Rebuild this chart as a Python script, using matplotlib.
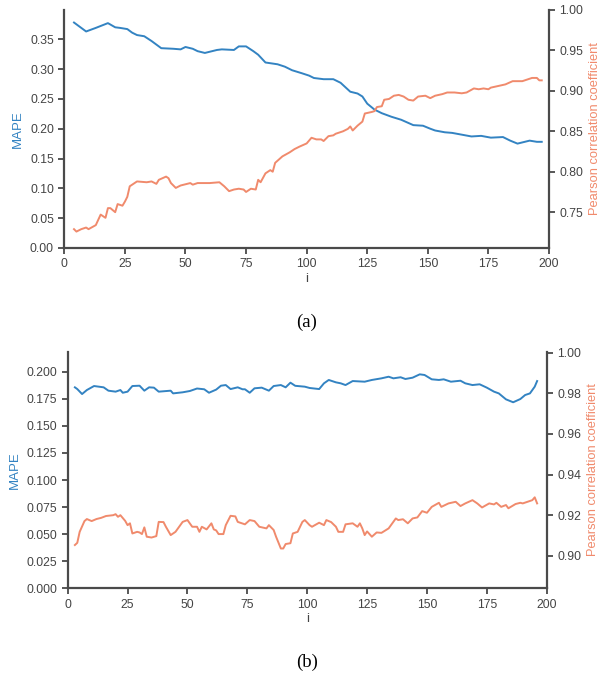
import matplotlib
matplotlib.use("Agg")
import matplotlib.pyplot as plt

# ---------------- data: panel (a) ----------------
a_mape_i = [4, 9, 13, 18, 21, 23, 26, 28, 30, 33, 36, 40, 45, 48, 50, 53, 55, 58, 63, 65, 70, 72, 75,
            78, 80, 83, 88, 91, 94, 98, 101, 103, 107, 111, 114, 118, 121, 123, 125, 128, 131, 135,
            139, 144, 148, 151, 153, 157, 160, 164, 168, 172, 176, 181, 184, 187, 190, 192, 195, 197]
a_mape = [0.378, 0.363, 0.369, 0.377, 0.370, 0.369, 0.367, 0.361, 0.357, 0.355, 0.347, 0.335, 0.334,
          0.333, 0.337, 0.334, 0.330, 0.327, 0.332, 0.333, 0.332, 0.338, 0.338, 0.330, 0.324, 0.311,
          0.308, 0.304, 0.298, 0.293, 0.289, 0.285, 0.283, 0.283, 0.277, 0.262, 0.259, 0.254, 0.242,
          0.232, 0.226, 0.220, 0.215, 0.206, 0.205, 0.200, 0.197, 0.194, 0.193, 0.190, 0.187, 0.188,
          0.185, 0.186, 0.180, 0.175, 0.178, 0.180, 0.178, 0.178]

a_pcc_i = [4, 5, 7, 9, 10, 13, 15, 17, 18, 19, 21, 22, 24, 25, 26, 27, 28, 30, 34, 36, 38, 39, 42, 43,
           44, 46, 48, 52, 53, 55, 60, 64, 66, 68, 70, 72, 74, 75, 77, 79, 80, 81, 83, 85, 86, 87, 90,
           93, 95, 97, 100, 102, 104, 106, 107, 109, 111, 112, 115, 117, 118, 119, 121, 123, 124, 127,
           128, 129, 131, 132, 134, 136, 138, 139, 140, 142, 144, 146, 149, 151, 153, 156, 158, 161,
           164, 166, 169, 171, 173, 175, 176, 179, 182, 185, 189, 191, 193, 195, 196, 197]
a_pcc = [0.729, 0.726, 0.729, 0.731, 0.729, 0.734, 0.747, 0.743, 0.755, 0.755, 0.750, 0.760, 0.758,
         0.763, 0.769, 0.782, 0.784, 0.788, 0.787, 0.788, 0.785, 0.790, 0.794, 0.792, 0.786, 0.780,
         0.783, 0.786, 0.784, 0.786, 0.786, 0.787, 0.782, 0.776, 0.778, 0.779, 0.778, 0.775, 0.779,
         0.778, 0.790, 0.787, 0.798, 0.802, 0.800, 0.811, 0.819, 0.824, 0.828, 0.831, 0.835, 0.842,
         0.840, 0.840, 0.838, 0.844, 0.845, 0.847, 0.850, 0.853, 0.856, 0.851, 0.857, 0.862, 0.872,
         0.874, 0.875, 0.880, 0.881, 0.889, 0.890, 0.894, 0.895, 0.894, 0.893, 0.889, 0.888, 0.893,
         0.894, 0.891, 0.894, 0.896, 0.898, 0.898, 0.897, 0.898, 0.903, 0.902, 0.903, 0.902, 0.904,
         0.906, 0.908, 0.912, 0.912, 0.914, 0.916, 0.916, 0.913, 0.913]

# ---------------- data: panel (b) ----------------
b_mape_i = [3, 4, 6, 8, 11, 15, 17, 20, 22, 23, 25, 27, 30, 32, 34, 36, 38, 43, 44, 48, 51, 54, 57,
            59, 62, 64, 66, 68, 71, 73, 74, 76, 78, 81, 84, 86, 89, 91, 93, 95, 99, 101, 105, 107,
            109, 112, 114, 116, 119, 124, 127, 131, 134, 136, 139, 141, 144, 147, 149, 152, 155, 157,
            160, 164, 166, 169, 172, 175, 178, 180, 183, 186, 189, 191, 193, 195, 196]
b_mape = [0.1856, 0.1840, 0.1794, 0.1831, 0.1868, 0.1856, 0.1825, 0.1816, 0.1831, 0.1806, 0.1816,
          0.1868, 0.1871, 0.1825, 0.1856, 0.1853, 0.1816, 0.1825, 0.1800, 0.1810, 0.1822, 0.1845,
          0.1838, 0.1806, 0.1835, 0.1871, 0.1877, 0.1840, 0.1856, 0.1838, 0.1838, 0.1806, 0.1847,
          0.1853, 0.1825, 0.1868, 0.1877, 0.1856, 0.1899, 0.1870, 0.1862, 0.1850, 0.1840, 0.1893,
          0.1924, 0.1902, 0.1893, 0.1877, 0.1914, 0.1908, 0.1924, 0.1939, 0.1954, 0.1939, 0.1949,
          0.1933, 0.1945, 0.1976, 0.1970, 0.1930, 0.1924, 0.1930, 0.1908, 0.1917, 0.1893, 0.1877,
          0.1884, 0.1853, 0.1816, 0.1800, 0.1745, 0.1718, 0.1748, 0.1785, 0.1800, 0.1862, 0.1914]

b_pcc_i = [3, 4, 5, 7, 8, 10, 12, 14, 16, 19, 20, 21, 22, 24, 25, 26, 27, 29, 30, 31, 32, 33, 35, 37,
           38, 40, 41, 43, 45, 48, 50, 52, 54, 55, 56, 58, 60, 61, 62, 63, 65, 66, 68, 70, 71, 74, 76,
           78, 80, 83, 84, 86, 87, 89, 90, 91, 93, 94, 96, 98, 99, 101, 102, 105, 107, 108, 110, 112,
           113, 115, 116, 119, 121, 122, 123, 124, 125, 127, 129, 131, 134, 137, 138, 140, 142, 144,
           146, 148, 150, 152, 155, 156, 159, 162, 164, 166, 169, 171, 173, 176, 178, 179, 181, 183,
           184, 187, 189, 190, 192, 194, 195, 196]
b_pcc = [0.9053, 0.9064, 0.9118, 0.9171, 0.9181, 0.9171, 0.9181, 0.9187, 0.9196, 0.9200, 0.9205,
         0.9192, 0.9200, 0.9172, 0.9151, 0.9160, 0.9110, 0.9118, 0.9115, 0.9107, 0.9140, 0.9094,
         0.9090, 0.9097, 0.9167, 0.9166, 0.9143, 0.9102, 0.9118, 0.9167, 0.9176, 0.9143, 0.9143,
         0.9118, 0.9143, 0.9130, 0.9160, 0.9130, 0.9125, 0.9107, 0.9107, 0.9151, 0.9197, 0.9194,
         0.9167, 0.9155, 0.9176, 0.9171, 0.9143, 0.9135, 0.9151, 0.9127, 0.9094, 0.9036, 0.9036,
         0.9058, 0.9062, 0.9110, 0.9118, 0.9167, 0.9176, 0.9151, 0.9143, 0.9163, 0.9151, 0.9176,
         0.9166, 0.9143, 0.9118, 0.9118, 0.9155, 0.9160, 0.9143, 0.9160, 0.9135, 0.9102, 0.9120,
         0.9094, 0.9115, 0.9113, 0.9135, 0.9184, 0.9176, 0.9180, 0.9160, 0.9184, 0.9189, 0.9220,
         0.9212, 0.9241, 0.9261, 0.9241, 0.9258, 0.9266, 0.9245, 0.9258, 0.9274, 0.9258, 0.9238,
         0.9258, 0.9253, 0.9261, 0.9241, 0.9250, 0.9234, 0.9255, 0.9261, 0.9258, 0.9266, 0.9274,
         0.9288, 0.9258]

a_left_ticks = [0.00, 0.05, 0.10, 0.15, 0.20, 0.25, 0.30, 0.35]
a_right_ticks = [0.75, 0.80, 0.85, 0.90, 0.95, 1.00]
b_left_ticks = [0.000, 0.025, 0.050, 0.075, 0.100, 0.125, 0.150, 0.175, 0.200]
b_right_ticks = [0.90, 0.92, 0.94, 0.96, 0.98, 1.00]
x_ticks = [0, 25, 50, 75, 100, 125, 150, 175, 200]

BLUE = "#3383c2"
ORANGE = "#f08a6c"
SPINE = "#4a4a4a"
TXT = "#444444"

plt.rcParams['font.family'] = ['Liberation Sans', 'DejaVu Sans']

fig = plt.figure(figsize=(6.03, 6.76), dpi=100)


def style(ax):
    ax.spines["top"].set_visible(False)
    for s in ["left", "right", "bottom"]:
        ax.spines[s].set_color(SPINE)
        ax.spines[s].set_linewidth(1.6)
    ax.tick_params(axis="both", direction="out", length=4.5, width=1.3, color=SPINE,
                   labelsize=8.8, labelcolor=TXT, pad=3)


def panel(rect, xs1, ys1, xs2, ys2, lticks, rticks, llim, rlim, lfmt, rfmt, cap, cap_y):
    ax = fig.add_axes(rect)
    ax2 = ax.twinx()
    ax.plot(xs1, ys1, color=BLUE, lw=1.4)
    ax2.plot(xs2, ys2, color=ORANGE, lw=1.4)
    ax.set_xlim(0, 200)
    ax.set_ylim(*llim)
    ax2.set_ylim(*rlim)
    ax.set_xticks(x_ticks)
    ax.set_yticks(lticks)
    ax.set_yticklabels([lfmt.format(t) for t in lticks])
    ax2.set_yticks(rticks)
    ax2.set_yticklabels([rfmt.format(t) for t in rticks])
    style(ax)
    style(ax2)
    ax.spines["right"].set_visible(False)
    ax2.spines["left"].set_visible(False)
    ax2.spines["bottom"].set_visible(False)
    ax.set_xlabel("i", fontsize=9.5, color=TXT, labelpad=2)
    ax.set_ylabel("MAPE", fontsize=9.5, color=BLUE, labelpad=4)
    ax2.set_ylabel("Pearson correlation coefficient", fontsize=9.3, color=ORANGE, labelpad=4)
    fig.text(rect[0] + rect[2] / 2, cap_y, cap, ha="center", va="center",
             fontsize=13.5, family="Liberation Serif", color="black")
    return ax, ax2


panel([64.3 / 603, 1 - 248 / 676, (549 - 64.3) / 603, 238 / 676],
      a_mape_i, a_mape, a_pcc_i, a_pcc, a_left_ticks, a_right_ticks,
      (0, 0.399), (0.7057, 1.0), "{:.2f}", "{:.2f}", "(a)", 1 - 322 / 676)

panel([67.7 / 603, 1 - 588.3 / 676, (546.7 - 67.7) / 603, 236.6 / 676],
      b_mape_i, b_mape, b_pcc_i, b_pcc, b_left_ticks, b_right_ticks,
      (0, 0.2185), (0.884, 1.0005), "{:.3f}", "{:.2f}", "(b)", 1 - 662 / 676)

fig.savefig("out.png", dpi=100)
